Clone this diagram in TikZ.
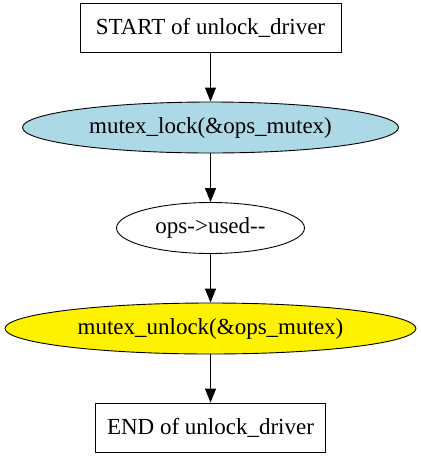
\documentclass[tikz,border=0pt]{standalone}
\usepackage{fontspec}
\setmainfont{Liberation Serif}
\usetikzlibrary{shapes.geometric,arrows.meta}
\begin{document}
\begin{tikzpicture}[x=1pt,y=-1pt,
  every node/.style={font=\fontsize{23}{26}\selectfont, inner sep=0pt},
  boxnode/.style={draw, rectangle, line width=0.9pt},
  ellnode/.style={draw, ellipse, line width=0.9pt},
  flow/.style={line width=1pt, -{Triangle[length=14pt,width=11pt]}}]
\useasboundingbox (0,0) rectangle (421,459);
\node[boxnode, minimum width=261pt, minimum height=49pt] (start) at (210.5,27.5) {START of unlock\_driver};
\node[ellnode, fill={rgb,255:red,173;green,216;blue,230}, minimum width=376pt, minimum height=51pt] (lock) at (210.5,127.5) {mutex\_lock(\&ops\_mutex)};
\node[ellnode, minimum width=188pt, minimum height=51pt] (used) at (210.5,228) {ops->used-{}-};
\node[ellnode, fill=yellow, minimum width=411pt, minimum height=51pt] (unlock) at (210.5,328.5) {mutex\_unlock(\&ops\_mutex)};
\node[boxnode, minimum width=230pt, minimum height=49pt] (end) at (210.5,427.5) {END of unlock\_driver};
\draw[flow] (start) -- (lock);
\draw[flow] (lock) -- (used);
\draw[flow] (used) -- (unlock);
\draw[flow] (unlock) -- (end);
\end{tikzpicture}
\end{document}
